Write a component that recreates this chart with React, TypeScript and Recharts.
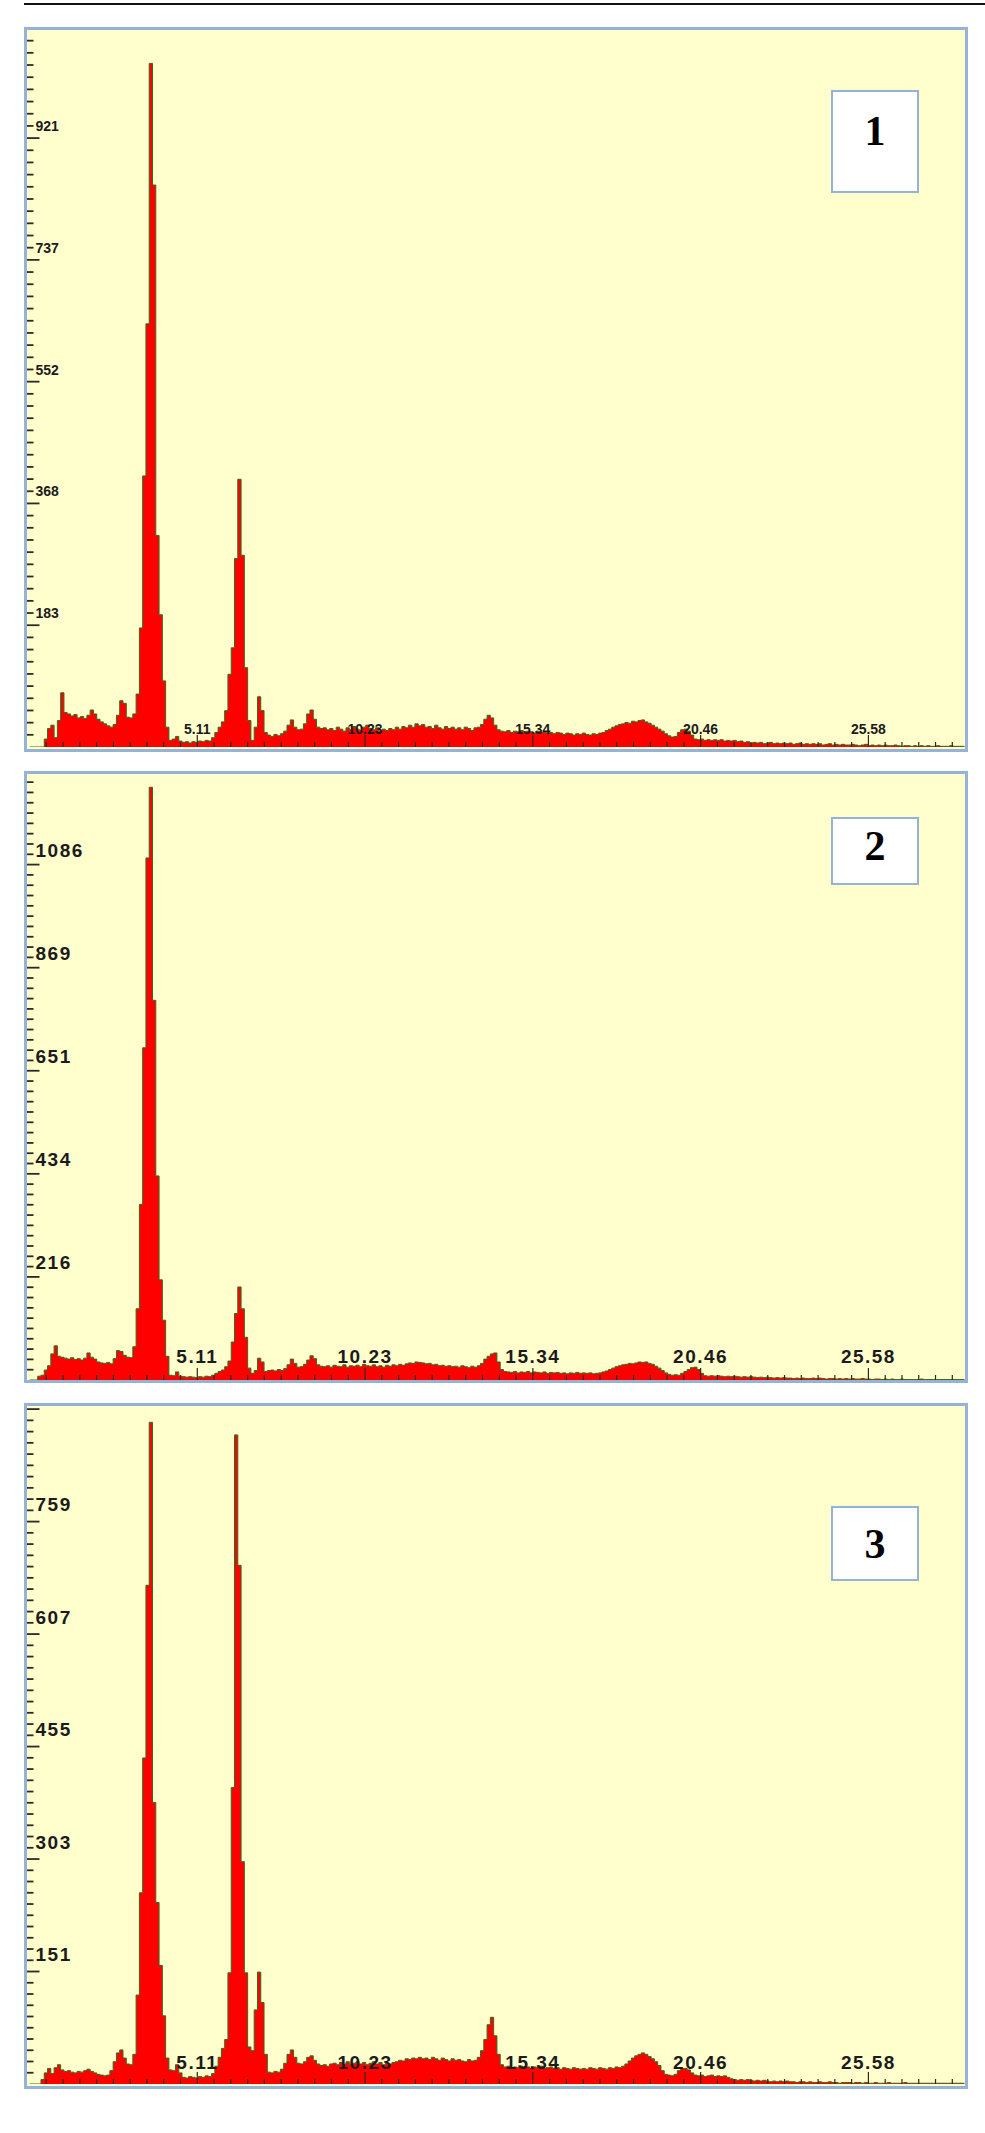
import React from "react";
import { AreaChart, Area, XAxis, YAxis } from "recharts";

// EDX spectra, counts per 0.1 keV channel starting at 0 keV
const KEV_STEP = 0.1;

const spectrum1 = [
  0, 0, 0, 0, 0, 12, 28, 33, 14, 40,
  82, 52, 50, 47, 49, 44, 46, 43, 48, 56,
  50, 42, 38, 35, 32, 30, 34, 48, 70, 66,
  45, 44, 50, 80, 180, 410, 640, 1034, 850, 320,
  200, 100, 30, 10, 12, 16, 9, 7, 8, 6,
  8, 7, 9, 8, 10, 9, 14, 22, 30, 38,
  55, 110, 150, 285, 405, 290, 120, 40, 10, 30,
  76, 55, 22, 18, 16, 19, 17, 20, 24, 33,
  41, 30, 26, 27, 35, 50, 56, 42, 30, 28,
  29, 26, 28, 25, 30, 27, 24, 29, 26, 31,
  27, 25, 30, 33, 28, 26, 29, 24, 27, 25,
  28, 26, 30, 27, 31, 29, 33, 30, 35, 32,
  34, 30, 31, 28, 33, 29, 27, 31, 28, 30,
  27, 29, 26, 30, 28, 25, 29, 30, 34, 42,
  48, 44, 33, 26, 24, 23, 25, 22, 24, 23,
  25, 22, 24, 23, 21, 24, 22, 23, 21, 22,
  20, 22, 21, 19, 21, 20, 18, 20, 19, 21,
  19, 18, 20, 19, 21, 22, 25, 27, 30, 32,
  34, 35, 37, 36, 39, 38, 40, 41, 38, 36,
  33, 30, 27, 24, 20, 17, 15, 16, 22, 26,
  27, 24, 18, 12, 11, 12, 10, 11, 10, 11,
  10, 11, 9, 10, 9, 10, 8, 9, 7, 8,
  6, 7, 6, 7, 5, 6, 7, 5, 6, 5,
  6, 5, 6, 4, 5, 6, 4, 5, 4, 5,
  4, 5, 3, 4, 5, 3, 4, 3, 4, 3,
  3, 4, 3, 2, 3, 4, 2, 3, 2, 3,
  2, 3, 2, 2, 3, 2, 1, 2, 2, 1,
  2, 1, 2, 1, 2, 1, 1, 2, 1, 1,
  1, 2, 1, 1, 1, 1,
];

const spectrum2 = [
  0, 0, 0, 8, 10, 21, 30, 55, 72, 50,
  48, 46, 44, 47, 43, 45, 42, 46, 57, 48,
  44, 38, 36, 35, 37, 34, 45, 62, 60, 52,
  48, 47, 70, 150, 370, 700, 1100, 1249, 800, 430,
  211, 126, 50, 10, 9, 17, 8, 7, 6, 7,
  6, 5, 7, 6, 8, 7, 10, 14, 18, 21,
  28, 40, 80, 140, 196, 150, 90, 25, 14, 20,
  46, 38, 18, 20, 21, 19, 22, 20, 24, 32,
  44, 35, 27, 28, 33, 42, 51, 45, 32, 29,
  28, 30, 27, 31, 29, 28, 32, 27, 30, 29,
  31, 28, 33, 30, 29, 32, 28, 30, 27, 31,
  29, 32, 30, 33, 31, 34, 36, 35, 38, 37,
  36, 34, 35, 32, 33, 30, 31, 29, 30, 28,
  29, 27, 30, 28, 26, 29, 27, 30, 35, 44,
  50, 55, 57, 38, 22, 18, 17, 16, 18, 15,
  17, 16, 18, 15, 17, 16, 15, 17, 14, 16,
  15, 16, 14, 15, 13, 15, 14, 16, 14, 15,
  14, 15, 13, 14, 15, 17, 19, 22, 25, 28,
  30, 32, 33, 35, 34, 36, 38, 37, 38, 35,
  33, 29, 25, 20, 15, 12, 10, 11, 10, 14,
  18, 22, 26, 27, 22, 14, 9, 8, 9, 8,
  9, 8, 7, 8, 7, 8, 7, 6, 7, 6,
  7, 6, 5, 6, 5, 6, 5, 4, 5, 4,
  5, 4, 4, 3, 4, 3, 4, 3, 3, 4,
  3, 4, 3, 2, 3, 3, 2, 3, 2, 3,
  2, 3, 2, 2, 3, 2, 2, 1, 2, 2,
  1, 2, 1, 2, 1, 1, 2, 1, 1, 1,
  1, 1, 2, 1, 1, 1, 1, 1, 1, 1,
  1, 1, 1, 1, 1, 1,
];

const spectrum3 = [
  0, 0, 0, 0, 6, 15, 21, 14, 22, 26,
  19, 17, 18, 16, 15, 17, 16, 18, 20, 17,
  15, 13, 12, 11, 12, 18, 30, 42, 46, 35,
  27, 26, 40, 120, 258, 440, 673, 893, 380, 245,
  160, 92, 35, 19, 18, 26, 15, 9, 8, 10,
  9, 8, 10, 9, 11, 10, 14, 24, 36, 48,
  60, 150, 400, 876, 700, 300, 150, 50, 45, 100,
  151, 110, 40, 16, 15, 17, 16, 20, 28, 40,
  46, 36, 28, 27, 30, 36, 38, 32, 27, 25,
  26, 24, 27, 28, 26, 29, 27, 30, 26, 28,
  30, 27, 29, 26, 28, 30, 27, 29, 26, 28,
  27, 29, 30, 32, 31, 34, 33, 35, 34, 36,
  34, 35, 33, 36, 34, 32, 35, 33, 31, 34,
  32, 33, 31, 30, 33, 31, 32, 36, 45, 60,
  80, 90, 65, 40, 26, 23, 24, 22, 23, 22,
  24, 22, 23, 21, 23, 22, 24, 21, 22, 23,
  21, 22, 20, 22, 21, 20, 22, 21, 20, 21,
  20, 22, 21, 20, 22, 21, 20, 22, 21, 23,
  22, 24, 27, 31, 35, 38, 40, 42, 40, 37,
  34, 30, 25, 18, 13, 12, 11, 13, 18, 21,
  21, 19, 15, 12, 11, 12, 10, 11, 12, 10,
  11, 10, 11, 9, 7, 6, 5, 6, 5, 6,
  5, 4, 5, 4, 5, 4, 3, 4, 3, 4,
  3, 4, 3, 3, 2, 3, 3, 2, 3, 2,
  2, 3, 2, 2, 3, 2, 2, 1, 2, 2,
  2, 1, 2, 2, 1, 2, 1, 1, 2, 1,
  1, 1, 2, 1, 1, 1, 1, 2, 1, 1,
  1, 1, 1, 1, 1, 1, 1, 1, 1, 1,
  1, 1, 1, 1, 1, 1,
];

// energy axis (keV): labelled every 5.115 keV, minor ticks every tenth of that
const xTickLabels = ["5.11", "10.23", "15.34", "20.46", "25.58"];
const X_MAJOR_STEP = 5.115;
const X_MAX = 28.55;

// count axes
const yTickLabels1 = ["183", "368", "552", "737", "921"];
const yTickLabels2 = ["216", "434", "651", "869", "1086"];
const yTickLabels3 = ["151", "303", "455", "607", "759"];

const BG = "#fffecc";
const FRAME = "#95b3d7";
const FILL = "#ff0000";
const OUTLINE = "#336a1c";
const INK = "#1b1b1b";
const FONT = "'Liberation Sans', Arial, sans-serif";

const xTicks: number[] = [];
for (let k = 1; (k * X_MAJOR_STEP) / 10 <= X_MAX; k++) xTicks.push((k * X_MAJOR_STEP) / 10);

function XTick(props: any) {
  const { x, y, payload, fontSize, spacing, lift } = props;
  const idx = Math.round(payload.value / (X_MAJOR_STEP / 10));
  const major = idx % 10 === 0;
  return (
    <g>
      <line x1={x} x2={x} y1={y} y2={y - (major ? 12 : 5)} stroke="#2a2a1a" strokeWidth={1.2} />
      {major && (
        <text
          x={x}
          y={y - lift}
          textAnchor="middle"
          dominantBaseline="central"
          fontFamily={FONT}
          fontWeight="bold"
          fontSize={fontSize}
          letterSpacing={spacing}
          fill={INK}
        >
          {xTickLabels[idx / 10 - 1]}
        </text>
      )}
    </g>
  );
}

function YTick(props: any) {
  const { x, y, payload, step, labels, fontSize, spacing, lift } = props;
  const idx = Math.round(payload.value / (step / 10));
  const major = idx % 10 === 0;
  return (
    <g>
      <line x1={x - 3} x2={x + (major ? 10 : 4)} y1={y} y2={y} stroke="#2b2b2b" strokeWidth={1.8} />
      {major && (
        <text
          x={x + 6}
          y={y - lift}
          textAnchor="start"
          dominantBaseline="central"
          fontFamily={FONT}
          fontWeight="bold"
          fontSize={fontSize}
          letterSpacing={spacing}
          fill={INK}
        >
          {labels[idx / 10 - 1]}
        </text>
      )}
    </g>
  );
}

interface PanelProps {
  counts: number[];
  yLabels: string[];
  yMajorStep: number;
  yMax: number;
  top: number;
  height: number;
  marginTop: number;
  marginBottom: number;
  fontSize: number;
  spacing: number;
  yLift: number;
  xLift: number;
  boxTop: number;
  boxHeight: number;
  numberY: number;
  tag: string;
}

const Panel = (p: PanelProps) => {
  const data = p.counts.map((c, i) => ({ kev: Math.round(i * KEV_STEP * 100) / 100, counts: c }));
  const yTicks: number[] = [];
  for (let k = 1; (k * p.yMajorStep) / 10 <= p.yMax; k++) yTicks.push((k * p.yMajorStep) / 10);

  return (
    <div style={{ position: "absolute", left: 24, top: p.top, width: 944, height: p.height, background: BG }}>
      <AreaChart
        width={944}
        height={p.height}
        data={data}
        margin={{ top: p.marginTop, right: 2, bottom: p.marginBottom, left: 4.5 }}
      >
        <Area
          type="step"
          dataKey="counts"
          fill={FILL}
          fillOpacity={1}
          stroke={OUTLINE}
          strokeWidth={1}
          dot={false}
          activeDot={false}
          isAnimationActive={false}
        />
        <XAxis
          type="number"
          dataKey="kev"
          domain={[0, X_MAX]}
          ticks={xTicks}
          interval={0}
          height={1}
          axisLine={false}
          tickLine={false}
          tickSize={0}
          tickMargin={0}
          allowDataOverflow
          tick={(t: any) => <XTick {...t} fontSize={p.fontSize} spacing={p.spacing} lift={p.xLift} />}
        />
        <YAxis
          type="number"
          domain={[0, p.yMax]}
          ticks={yTicks}
          interval={0}
          width={1}
          axisLine={false}
          tickLine={false}
          tickSize={0}
          tickMargin={0}
          allowDataOverflow
          tick={(t: any) => (
            <YTick
              {...t}
              step={p.yMajorStep}
              labels={p.yLabels}
              fontSize={p.fontSize}
              spacing={p.spacing}
              lift={p.yLift}
            />
          )}
        />
      </AreaChart>
      <div style={{ position: "absolute", inset: 0, border: `3px solid ${FRAME}`, pointerEvents: "none" }} />
      <div
        style={{
          position: "absolute",
          left: 807,
          top: p.boxTop - p.top,
          width: 88,
          height: p.boxHeight,
          boxSizing: "border-box",
          background: "#ffffff",
          border: `2.5px solid ${FRAME}`,
        }}
      />
      <div
        style={{
          position: "absolute",
          left: 807,
          width: 88,
          top: p.numberY - p.top - 22,
          height: 44,
          lineHeight: "44px",
          textAlign: "center",
          fontFamily: "'Liberation Serif', 'Times New Roman', serif",
          fontWeight: "bold",
          fontSize: 42,
          color: "#000",
        }}
      >
        {p.tag}
      </div>
    </div>
  );
};

export default function App() {
  return (
    <div style={{ position: "absolute", left: 0, top: 0, width: 985, height: 2133, background: "#ffffff" }}>
      <div style={{ position: "absolute", left: 24, top: 3, width: 961, height: 2, background: "#111" }} />
      <Panel
        counts={spectrum1}
        yLabels={yTickLabels1}
        yMajorStep={184.2}
        yMax={1086}
        top={27}
        height={725}
        marginTop={2}
        marginBottom={4}
        fontSize={14}
        spacing={0}
        yLift={12}
        xLift={18}
        boxTop={90}
        boxHeight={103}
        numberY={131}
        tag="1"
      />
      <Panel
        counts={spectrum2}
        yLabels={yTickLabels2}
        yMajorStep={217.2}
        yMax={1279}
        top={771}
        height={612}
        marginTop={2}
        marginBottom={2}
        fontSize={19}
        spacing={1.5}
        yLift={14}
        xLift={24}
        boxTop={817}
        boxHeight={68}
        numberY={846}
        tag="2"
      />
      <Panel
        counts={spectrum3}
        yLabels={yTickLabels3}
        yMajorStep={151.8}
        yMax={915}
        top={1403}
        height={686}
        marginTop={3}
        marginBottom={4}
        fontSize={19}
        spacing={1.5}
        yLift={17}
        xLift={22}
        boxTop={1506}
        boxHeight={75}
        numberY={1544}
        tag="3"
      />
    </div>
  );
}
